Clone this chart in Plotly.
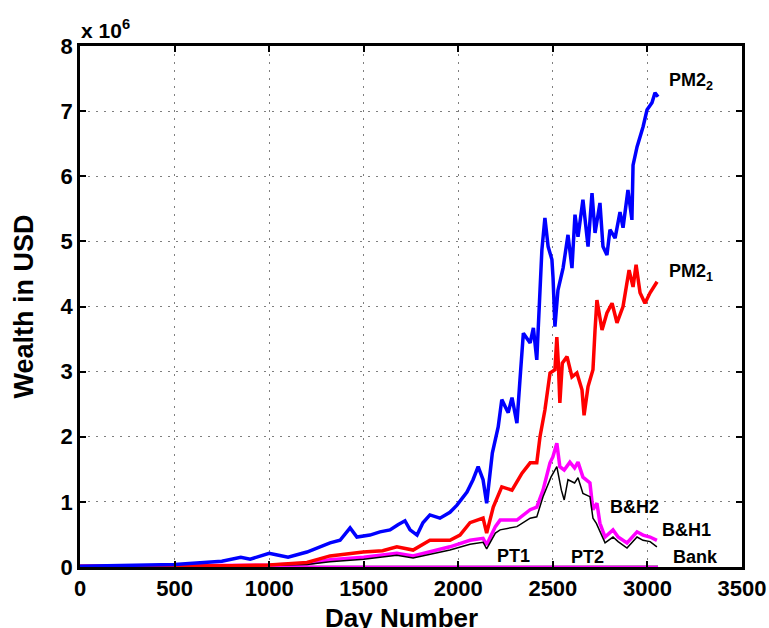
import plotly.graph_objects as go

# ---- data (wealth in millions of USD) ----
pm22_days = [0, 250, 500, 750, 850, 900, 1000, 1050, 1100, 1200, 1322, 1375, 1428, 1464, 1533, 1586,
             1639, 1681, 1718, 1745, 1782, 1813, 1850, 1903, 1956, 1993, 2046, 2078, 2105, 2131, 2150,
             2180, 2211, 2230, 2264, 2284, 2310, 2326, 2344, 2380, 2397, 2415, 2432, 2442, 2458, 2475,
             2495, 2501, 2511, 2527, 2554, 2580, 2601, 2617, 2633, 2659, 2686, 2707, 2723, 2749, 2765,
             2786, 2802, 2829, 2855, 2871, 2897, 2918, 2924, 2945, 2977, 2998, 3024, 3040, 3056]
pm22_vals = [0.01, 0.02, 0.04, 0.09, 0.15, 0.12, 0.21, 0.18, 0.15, 0.23, 0.37, 0.41, 0.60, 0.46, 0.49, 0.54,
             0.57, 0.65, 0.71, 0.57, 0.49, 0.68, 0.80, 0.75, 0.84, 0.95, 1.15, 1.34, 1.54, 1.34, 0.98,
             1.75, 2.15, 2.57, 2.37, 2.60, 2.21, 2.87, 3.59, 3.44, 3.67, 3.18, 4.15, 4.87, 5.36, 4.92,
             4.72, 4.44, 3.69, 4.25, 4.59, 5.10, 4.59, 5.41, 5.07, 5.64, 4.92, 5.74, 5.13, 5.59, 4.92,
             4.79, 5.18, 5.05, 5.45, 5.21, 5.79, 5.33, 6.17, 6.45, 6.76, 7.02, 7.13, 7.28, 7.22]

pm21_days = [0, 500, 800, 1000, 1200, 1322, 1497, 1600, 1675, 1761, 1850, 1956, 2009, 2062, 2131, 2150,
             2185, 2230, 2284, 2337, 2380, 2415, 2432, 2458, 2485, 2511, 2521, 2529, 2537, 2550, 2575,
             2601, 2627, 2654, 2665, 2686, 2712, 2723, 2733, 2760, 2786, 2813, 2839, 2871, 2903, 2924,
             2940, 2961, 2987, 3014, 3051]
pm21_vals = [0.01, 0.01, 0.02, 0.03, 0.07, 0.17, 0.23, 0.25, 0.31, 0.26, 0.41, 0.41, 0.49, 0.68, 0.75, 0.52,
             0.92, 1.23, 1.18, 1.44, 1.60, 1.60, 2.00, 2.41, 2.98, 3.03, 3.53, 3.13, 2.52, 3.13, 3.23,
             2.92, 2.98, 2.72, 2.33, 2.77, 3.03, 3.64, 4.10, 3.64, 3.90, 4.05, 3.75, 4.00, 4.56, 4.30,
             4.64, 4.21, 4.05, 4.21, 4.38]

bh2_days = [0, 500, 1000, 1200, 1322, 1500, 1675, 1761, 1900, 1956, 2062, 2131, 2150, 2196, 2221, 2310,
            2380, 2415, 2448, 2485, 2500, 2521, 2537, 2560, 2590, 2615, 2633, 2659, 2696, 2712, 2733,
            2749, 2776, 2818, 2845, 2892, 2945, 2977, 3014, 3050]
bh2_vals = [0.01, 0.015, 0.03, 0.05, 0.11, 0.15, 0.21, 0.17, 0.27, 0.31, 0.41, 0.44, 0.34, 0.62, 0.72, 0.72,
            0.88, 0.92, 1.18, 1.60, 1.69, 1.90, 1.54, 1.49, 1.61, 1.52, 1.61, 1.38, 1.29, 0.88, 0.98,
            0.67, 0.46, 0.57, 0.46, 0.37, 0.54, 0.49, 0.46, 0.41]

bh1_days = [0, 500, 1000, 1200, 1322, 1500, 1675, 1761, 1900, 1956, 2062, 2131, 2150, 2196, 2221, 2310,
            2380, 2415, 2448, 2490, 2521, 2545, 2560, 2580, 2615, 2633, 2659, 2696, 2712, 2730, 2776,
            2818, 2845, 2892, 2945, 2977, 3014, 3050]
bh1_vals = [0.01, 0.012, 0.025, 0.04, 0.08, 0.12, 0.18, 0.14, 0.23, 0.26, 0.35, 0.38, 0.28, 0.52, 0.57, 0.62,
            0.75, 0.77, 1.08, 1.38, 1.54, 1.18, 1.03, 1.34, 1.29, 1.37, 1.13, 1.08, 0.75, 0.67, 0.37,
            0.46, 0.39, 0.29, 0.46, 0.41, 0.39, 0.31]

bank_days = [0, 3056]
bank_vals = [0.004, 0.006]
flat_days = [0, 3056]
flat_vals = [0.012, 0.012]

x_ticks = [0, 500, 1000, 1500, 2000, 2500, 3000, 3500]
y_ticks = [0, 1, 2, 3, 4, 5, 6, 7, 8]

FONT = "Liberation Sans, Arial, Helvetica, sans-serif"

fig = go.Figure()
fig.add_trace(go.Scatter(x=bank_days, y=bank_vals, mode="lines", line=dict(color="#00c000", width=2)))
fig.add_trace(go.Scatter(x=flat_days, y=flat_vals, mode="lines", line=dict(color="#ff00ff", width=1.5)))
fig.add_trace(go.Scatter(x=bh2_days, y=bh2_vals, mode="lines", line=dict(color="#ff00ff", width=3.5)))
fig.add_trace(go.Scatter(x=bh1_days, y=bh1_vals, mode="lines", line=dict(color="black", width=1.5)))
fig.add_trace(go.Scatter(x=pm21_days, y=pm21_vals, mode="lines", line=dict(color="#ff0000", width=3.5)))
fig.add_trace(go.Scatter(x=pm22_days, y=pm22_vals, mode="lines", line=dict(color="#0000ff", width=3.5)))

axis_common = dict(
    showline=True, linecolor="black", linewidth=2.5, mirror="ticks",
    ticks="inside", ticklen=6, tickwidth=2, tickcolor="black",
    showgrid=True, gridcolor="rgba(0,0,0,0.5)", gridwidth=1.2, griddash="2px,6px",
    zeroline=False, automargin=False, ticklabeloverflow="allow",
    tickfont=dict(family=FONT, size=22, color="black", weight="bold"),
)
fig.update_xaxes(range=[0, 3500], tickvals=x_ticks, ticktext=[str(v) for v in x_ticks], **axis_common)
fig.update_yaxes(range=[0, 8], tickvals=y_ticks, ticktext=[str(v) for v in y_ticks], **axis_common)

labels = [
    ("PM2<sub>2</sub>", 3230, 7.45),
    ("PM2<sub>1</sub>", 3230, 4.52),
    ("B&H2", 2934, 0.92),
    ("B&H1", 3209, 0.57),
    ("Bank", 3252, 0.15),
    ("PT1", 2290, 0.17),
    ("PT2", 2681, 0.15),
]
for txt, xv, yv in labels:
    fig.add_annotation(x=xv, y=yv, text=txt, showarrow=False,
                       font=dict(family=FONT, size=18, color="black", weight="bold"))

fig.add_annotation(xref="paper", yref="paper", x=-0.002, y=1.0, xanchor="left", yanchor="bottom",
                   yshift=2, text="x 10<sup>6</sup>", showarrow=False,
                   font=dict(family=FONT, size=21, color="black", weight="bold"))
fig.add_annotation(xref="paper", yref="paper", x=0.485, y=0, yanchor="middle", yshift=-51,
                   text="Day Number", showarrow=False,
                   font=dict(family=FONT, size=26, color="black", weight="bold"))
fig.add_annotation(xref="paper", yref="paper", x=0, y=0.5, xanchor="center", xshift=-57,
                   text="Wealth in USD", textangle=-90, showarrow=False,
                   font=dict(family=FONT, size=27, color="black", weight="bold"))

fig.update_layout(
    width=769, height=628,
    margin=dict(l=80, r=27, t=46, b=61),
    plot_bgcolor="white", paper_bgcolor="white",
    showlegend=False,
    font=dict(family=FONT, color="black"),
)
# remove the browser's default 8px body margin so the figure fills the window exactly
fig.write_html("out.html",
               config={"displayModeBar": False},
               post_script="document.body.style.margin='0';document.body.style.overflow='hidden';")
